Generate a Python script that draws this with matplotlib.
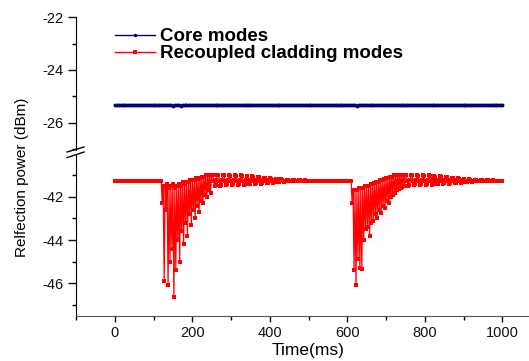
import numpy as np
import matplotlib
matplotlib.use("Agg")
import matplotlib.pyplot as plt
from matplotlib.lines import Line2D

plt.rcParams['font.family'] = ['Liberation Sans', 'DejaVu Sans']
plt.rcParams['axes.unicode_minus'] = False

# sampling steps of the recorded traces (ms)
core_step_ms = 5
clad_step_ms = 2.5

core_dbm = [
    -25.33, -25.33, -25.33, -25.33, -25.33, -25.33, -25.33, -25.33, -25.33, -25.33,
    -25.33, -25.33, -25.33, -25.33, -25.33, -25.33, -25.33, -25.33, -25.33, -25.33,
    -25.33, -25.33, -25.33, -25.33, -25.33, -25.33, -25.33, -25.33, -25.35, -25.32,
    -25.36, -25.32, -25.35, -25.32, -25.36, -25.32, -25.35, -25.32, -25.35, -25.32,
    -25.35, -25.32, -25.35, -25.33, -25.34, -25.33, -25.34, -25.33, -25.34, -25.33,
    -25.34, -25.33, -25.34, -25.33, -25.33, -25.33, -25.33, -25.33, -25.33, -25.33,
    -25.33, -25.33, -25.33, -25.33, -25.33, -25.33, -25.33, -25.33, -25.33, -25.33,
    -25.33, -25.33, -25.33, -25.33, -25.33, -25.33, -25.33, -25.33, -25.33, -25.33,
    -25.33, -25.33, -25.33, -25.33, -25.33, -25.33, -25.33, -25.33, -25.33, -25.33,
    -25.33, -25.33, -25.33, -25.33, -25.33, -25.33, -25.33, -25.33, -25.33, -25.33,
    -25.33, -25.33, -25.33, -25.33, -25.33, -25.33, -25.33, -25.33, -25.33, -25.33,
    -25.33, -25.33, -25.33, -25.33, -25.33, -25.33, -25.33, -25.33, -25.33, -25.33,
    -25.33, -25.33, -25.33, -25.35, -25.32, -25.36, -25.32, -25.35, -25.32, -25.35,
    -25.32, -25.34, -25.33, -25.34, -25.33, -25.34, -25.33, -25.33, -25.33, -25.33,
    -25.33, -25.33, -25.33, -25.33, -25.33, -25.33, -25.33, -25.33, -25.33, -25.33,
    -25.33, -25.33, -25.33, -25.33, -25.33, -25.33, -25.33, -25.33, -25.33, -25.33,
    -25.33, -25.33, -25.33, -25.33, -25.33, -25.33, -25.33, -25.33, -25.33, -25.33,
    -25.33, -25.33, -25.33, -25.33, -25.33, -25.33, -25.33, -25.33, -25.33, -25.33,
    -25.33, -25.33, -25.33, -25.33, -25.33, -25.33, -25.33, -25.33, -25.33, -25.33,
    -25.33, -25.33, -25.33, -25.33, -25.33, -25.33, -25.33, -25.33, -25.33, -25.33,
    -25.33,
]

# 20 samples per row = 50 ms per row
cladding_dbm = [
    -41.24, -41.24, -41.24, -41.24, -41.24, -41.24, -41.24, -41.24, -41.24, -41.24,
    -41.24, -41.24, -41.24, -41.24, -41.24, -41.24, -41.24, -41.24, -41.24, -41.24,
    -41.24, -41.24, -41.24, -41.24, -41.24, -41.24, -41.24, -41.24, -41.24, -41.24,
    -41.24, -41.24, -41.24, -41.24, -41.24, -41.24, -41.24, -41.24, -41.24, -41.24,
    # 100 ms
    -41.24, -41.24, -41.24, -41.24, -41.24, -41.24, -41.24, -41.24, -41.24, -42.3,
    -41.5, -45.9, -41.5, -42.6, -41.4, -46.1, -41.6, -45.0, -41.5, -44.4,
    # 150 ms
    -41.4, -46.65, -41.6, -45.4, -41.5, -44.0, -41.4, -45.0, -41.5, -43.6,
    -41.3, -44.2, -41.4, -43.2, -41.3, -43.8, -41.3, -42.8, -41.2, -43.3,
    # 200 ms
    -41.2, -42.6, -41.2, -43.0, -41.1, -42.4, -41.15, -42.7, -41.1, -42.2,
    -41.05, -42.3, -41.05, -41.9, -41.0, -42.0, -41.0, -41.7, -40.98, -41.8,
    # 250 ms
    -40.97, -41.0, -41.25, -41.5, -41.45, -41.2, -40.97, -41.0, -41.25, -41.48,
    -41.43, -41.2, -40.98, -41.0, -41.25, -41.46, -41.42, -41.2, -40.98, -41.01,
    # 300 ms
    -41.25, -41.45, -41.4, -41.2, -40.99, -41.02, -41.25, -41.44, -41.4, -41.2,
    -41.0, -41.03, -41.25, -41.43, -41.39, -41.21, -41.02, -41.05, -41.25, -41.42,
    # 350 ms
    -41.38, -41.21, -41.04, -41.07, -41.25, -41.4, -41.37, -41.22, -41.07, -41.09,
    -41.25, -41.38, -41.35, -41.23, -41.1, -41.12, -41.25, -41.36, -41.33, -41.23,
    # 400 ms
    -41.13, -41.15, -41.25, -41.34, -41.31, -41.23, -41.16, -41.17, -41.25, -41.32,
    -41.3, -41.24, -41.18, -41.19, -41.25, -41.3, -41.28, -41.24, -41.2, -41.21,
    # 450 ms
    -41.24, -41.28, -41.27, -41.24, -41.21, -41.22, -41.24, -41.27, -41.26, -41.24,
    -41.22, -41.23, -41.24, -41.26, -41.25, -41.24, -41.23, -41.24, -41.24, -41.24,
    # 500 ms
    -41.24, -41.24, -41.24, -41.24, -41.24, -41.24, -41.24, -41.24, -41.24, -41.24,
    -41.24, -41.24, -41.24, -41.24, -41.24, -41.24, -41.24, -41.24, -41.24, -41.24,
    # 550 ms
    -41.24, -41.24, -41.24, -41.24, -41.24, -41.24, -41.24, -41.24, -41.24, -41.24,
    -41.24, -41.24, -41.24, -41.24, -41.24, -41.24, -41.24, -41.24, -41.24, -41.24,
    # 600 ms
    -41.24, -41.24, -41.24, -41.24, -41.24, -42.3, -41.7, -45.4, -41.7, -46.1,
    -41.7, -44.9, -41.6, -45.3, -41.6, -45.35, -41.6, -44.0, -41.5, -43.5,
    # 650 ms
    -41.5, -43.4, -41.5, -43.8, -41.4, -43.2, -41.4, -43.1, -41.35, -42.8,
    -41.3, -43.0, -41.3, -42.6, -41.2, -42.75, -41.2, -42.4, -41.15, -42.5,
    # 700 ms
    -41.1, -42.2, -41.1, -42.3, -41.05, -42.0, -41.05, -41.9, -41.0, -41.8,
    -41.0, -41.7, -40.98, -41.65, -40.98, -41.6, -40.98, -41.55, -40.98, -41.5,
    # 750 ms
    -40.97, -41.0, -41.25, -41.48, -41.43, -41.2, -40.98, -41.0, -41.25, -41.46,
    -41.42, -41.2, -40.98, -41.01, -41.25, -41.45, -41.4, -41.2, -40.99, -41.02,
    # 800 ms
    -41.25, -41.44, -41.4, -41.2, -41.0, -41.03, -41.25, -41.43, -41.39, -41.21,
    -41.02, -41.05, -41.25, -41.42, -41.38, -41.21, -41.04, -41.07, -41.25, -41.4,
    # 850 ms
    -41.37, -41.22, -41.07, -41.09, -41.25, -41.38, -41.35, -41.23, -41.1, -41.12,
    -41.25, -41.36, -41.33, -41.23, -41.13, -41.15, -41.25, -41.34, -41.31, -41.23,
    # 900 ms
    -41.16, -41.17, -41.25, -41.32, -41.3, -41.24, -41.18, -41.19, -41.25, -41.3,
    -41.28, -41.24, -41.2, -41.21, -41.24, -41.28, -41.27, -41.24, -41.21, -41.22,
    # 950 ms
    -41.24, -41.27, -41.26, -41.24, -41.22, -41.23, -41.24, -41.26, -41.25, -41.24,
    -41.23, -41.24, -41.24, -41.25, -41.24, -41.24, -41.24, -41.24, -41.24, -41.24,
    # 1000 ms
    -41.24,
]

time_core = np.arange(len(core_dbm)) * core_step_ms
time_clad = np.arange(len(cladding_dbm)) * clad_step_ms

x_ticks = [0, 200, 400, 600, 800, 1000]
top_ticks = [-26, -24, -22]
bottom_ticks = [-46, -44, -42]

navy = '#000080'

fig = plt.figure(figsize=(5.29, 3.61), dpi=100)
ax_top = fig.add_axes([0.1437, 0.5845, 0.879, 0.3676])
ax_bot = fig.add_axes([0.1437, 0.1247, 0.879, 0.446], sharex=ax_top)

ax_top.plot(time_core, core_dbm, color=navy, lw=1.3, marker='o', ms=2.8, mew=0)
ax_bot.plot(time_clad, cladding_dbm, color='red', lw=0.9, marker='s', ms=2.8, mew=0)

ax_top.set_xlim(-100, 1100)
ax_top.set_ylim(-27.04, -22)
ax_bot.set_ylim(-47.53, -40.05)

for ax in (ax_top, ax_bot):
    ax.spines['top'].set_visible(False)
    ax.spines['right'].set_visible(False)
    ax.tick_params(axis='both', which='major', direction='out', labelsize=10.5, colors='#111111')
    ax.tick_params(axis='y', which='major', length=5.5, width=1)
    ax.tick_params(axis='y', which='minor', length=3, width=1)

ax_top.spines['bottom'].set_visible(False)
ax_top.tick_params(axis='x', which='both', bottom=False, labelbottom=False)
ax_top.set_yticks(top_ticks)
ax_top.set_yticks([-27, -25, -23], minor=True)

ax_bot.set_yticks(bottom_ticks)
ax_bot.set_yticks([-47, -45, -43, -41], minor=True)
ax_bot.set_xticks(x_ticks)
ax_bot.set_xticks([-100, 100, 300, 500, 700, 900, 1100], minor=True)
ax_bot.tick_params(axis='x', which='major', length=4, width=1)
ax_bot.tick_params(axis='x', which='minor', length=3, width=1)
ax_bot.spines['bottom'].set_color('#555555')
ax_bot.set_xlabel('Time(ms)', fontsize=12.5, labelpad=2)

fig.text(0.042, 1 - 177.5 / 361, 'Relfection power (dBm)', rotation=90,
         ha='center', va='center', fontsize=11)

# axis break marks
for y0, y1 in [(0.5789, 0.5928), (0.5634, 0.5789)]:
    fig.add_artist(Line2D([0.1267, 0.1588], [y0, y1], color='black', lw=1))

handles = [
    Line2D([], [], color=navy, lw=1, marker='o', ms=2.5, mew=0),
    Line2D([], [], color='red', lw=1, marker='s', ms=3, mew=0),
]
leg = ax_top.legend(handles, ['Core modes', 'Recoupled cladding modes'],
                    loc='upper left', bbox_to_anchor=(0.084, 0.918), frameon=False,
                    handlelength=2.13, handletextpad=0.27, labelspacing=0.0,
                    borderpad=0, borderaxespad=0,
                    prop={'weight': 'bold', 'size': 13.5})

fig.savefig('out.png', dpi=100)
